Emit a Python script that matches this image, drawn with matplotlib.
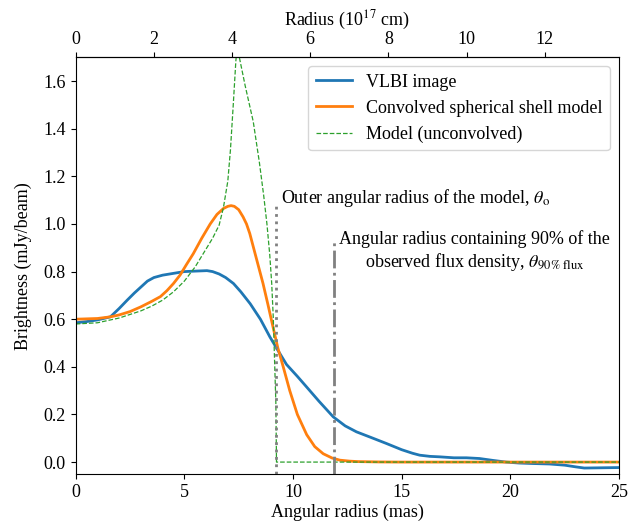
import numpy as np
import matplotlib
matplotlib.use('Agg')
import matplotlib.pyplot as plt

plt.rcParams['font.family'] = ['Liberation Serif', 'DejaVu Serif']
plt.rcParams['mathtext.fontset'] = 'stix'
plt.rcParams['font.size'] = 13

# -----------------------------------
# values (x in mas, y in mJy/beam)
vlbi_r = [0, 0.5, 1.0, 1.6, 2.0, 2.37, 2.7, 3.0, 3.3, 3.6, 4.0, 4.66, 5.0, 5.5, 6.04,
          6.3, 6.6, 6.9, 7.26, 7.6, 8.03, 8.5, 8.94, 9.3, 9.7, 10.2, 10.63, 11.2,
          11.85, 12.4, 12.92, 13.6, 14.3, 15.0, 15.5, 15.83, 16.3, 16.75, 17.4,
          17.98, 18.58, 19.2, 19.8, 20.4, 21.0, 21.8, 22.5, 23.0, 23.4, 24.2, 25.0]
vlbi_b = [0.585, 0.59, 0.597, 0.61, 0.645, 0.68, 0.71, 0.735, 0.76, 0.775, 0.785,
          0.795, 0.80, 0.802, 0.804, 0.80, 0.79, 0.775, 0.75, 0.715, 0.665, 0.60,
          0.525, 0.47, 0.41, 0.36, 0.315, 0.255, 0.19, 0.152, 0.127, 0.103, 0.078,
          0.052, 0.037, 0.029, 0.024, 0.022, 0.018, 0.018, 0.015, 0.007, 0.0,
          -0.004, -0.006, -0.008, -0.013, -0.02, -0.025, -0.024, -0.023]

conv_r = [0, 1.0, 1.6, 2.0, 2.5, 3.0, 3.5, 3.9, 4.2, 4.5, 4.8, 5.1, 5.41, 5.8, 6.19,
          6.5, 6.8, 7.0, 7.15, 7.3, 7.5, 7.7, 7.86, 8.01, 8.3, 8.62, 8.85, 9.08,
          9.3, 9.55, 9.85, 10.2, 10.63, 11.0, 11.39, 11.8, 12.16, 12.6, 13.0, 14.0,
          15.0, 20.0, 25.0]
conv_b = [0.60, 0.603, 0.61, 0.618, 0.632, 0.652, 0.675, 0.695, 0.72, 0.75, 0.785,
          0.83, 0.875, 0.94, 1.0, 1.04, 1.065, 1.074, 1.077, 1.074, 1.06, 1.03, 1.0,
          0.96, 0.86, 0.75, 0.66, 0.567, 0.48, 0.40, 0.30, 0.20, 0.115, 0.065,
          0.035, 0.017, 0.008, 0.004, 0.002, 0.0005, 0.0, 0.0, 0.0]

model_r = [0, 1.0, 2.0, 3.0, 3.5, 4.0, 4.5, 5.0, 5.5, 6.0, 6.3, 6.6, 6.8, 7.0, 7.12,
           7.25, 7.37, 7.45, 7.53, 7.8, 8.17, 8.45, 8.65, 8.8, 8.93, 9.02, 9.09,
           9.16, 9.21, 9.24, 12.0, 18.0, 25.0]
model_b = [0.58, 0.585, 0.605, 0.635, 0.655, 0.68, 0.715, 0.76, 0.82, 0.895, 0.94,
           0.995, 1.07, 1.18, 1.31, 1.5, 1.685, 1.76, 1.70, 1.58, 1.43, 1.26, 1.12,
           1.0, 0.87, 0.75, 0.61, 0.40, 0.25, 0.0, 0.0, 0.0, 0.0]

theta_o = 9.24        # outer angular radius of the model (mas)
theta_90 = 11.87      # radius with 90% of the flux (mas)
MAS_TO_1E17CM = 0.556
# -----------------------------------

fig, ax = plt.subplots(figsize=(6.43, 5.28), dpi=100)
fig.subplots_adjust(left=0.1177, right=0.9627, top=0.8915, bottom=0.1023)

ax.plot(vlbi_r, vlbi_b, color='C0', lw=2, label='VLBI image')
ax.plot(conv_r, conv_b, color='C1', lw=2, label='Convolved spherical shell model')
ax.plot(model_r, model_b, color='C2', lw=0.9, ls='--', label='Model (unconvolved)')

ax.vlines(theta_o, -0.05, 1.09, color='grey', lw=2, ls=':')
ax.vlines(theta_90, -0.05, 0.93, color='grey', lw=2, ls='-.')
ax.text(theta_o + 0.2, 1.107, r'Outer angular radius of the model, $\theta_\mathrm{o}$',
        ha='left', va='center')
ax.text(theta_90 + 0.25, 0.885,
        'Angular radius containing 90% of the\n'
        r'observed flux density, $\theta_{\mathrm{90\%\ flux}}$',
        ha='left', va='center', multialignment='center')

ax.set_xlim(0, 25)
ax.set_ylim(-0.05, 1.7)
ax.set_xlabel('Angular radius (mas)', labelpad=2)
ax.set_ylabel('Brightness (mJy/beam)', labelpad=8)
ax.legend(loc='upper right')

top = ax.secondary_xaxis('top', functions=(lambda x: x * MAS_TO_1E17CM,
                                           lambda x: x / MAS_TO_1E17CM))
top.set_xticks(np.arange(0, 13, 2))
top.set_xlabel(r'Radius (10$^{17}$ cm)')

fig.savefig('out.png', dpi=100)
